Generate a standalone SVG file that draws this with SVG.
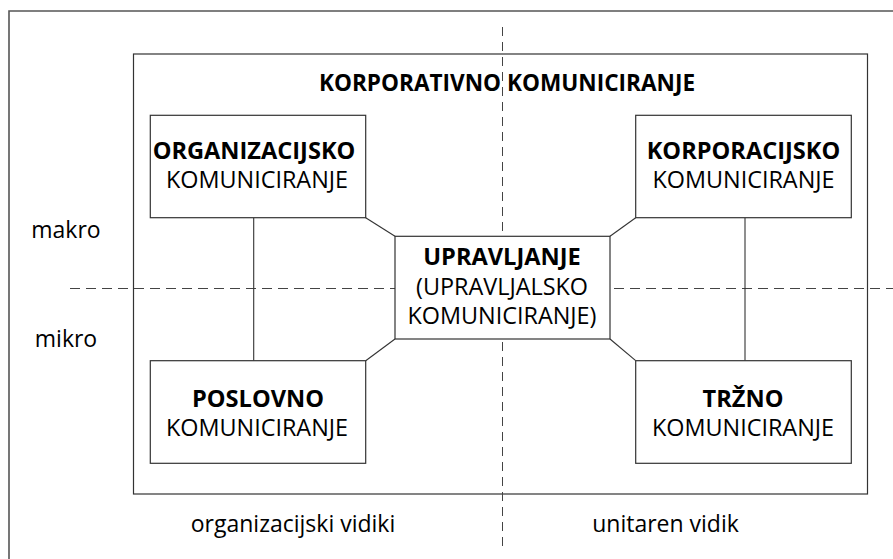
<svg xmlns="http://www.w3.org/2000/svg" width="893" height="559" viewBox="0 0 893 559">
<style>
.frame{fill:none;stroke:#555;stroke-width:1.6}
.box{fill:#fff;stroke:#333;stroke-width:1.2}
.big{fill:none;stroke:#333;stroke-width:1.2}
.ln{stroke:#333;stroke-width:1.1;fill:none}
.dash{stroke:#444;stroke-width:1;fill:none}
text{font-family:"Open Sans","Noto Sans",sans-serif;fill:#000;text-anchor:middle}
.t{font-weight:bold;font-size:22.6px}
.b{font-weight:bold;font-size:23.6px}
.r{font-size:23.4px}
.l{font-size:23px}
</style>
<rect width="893" height="559" fill="#fff"/>
<path class="frame" d="M9,559 V11 H893"/>
<rect class="big" x="133.5" y="54" width="734" height="440"/>
<g id="axes">
<line class="dash" x1="70" y1="288.5" x2="893" y2="288.5" stroke-dasharray="10,6"/>
<line class="dash" x1="502.5" y1="27" x2="502.5" y2="548" stroke-dasharray="9,6"/>
</g>
<g id="connectors">
<line class="ln" x1="253.7" y1="217.7" x2="253.7" y2="360.7"/>
<line class="ln" x1="745" y1="217.7" x2="745" y2="360.7"/>
<line class="ln" x1="365.7" y1="217.7" x2="395" y2="236.3"/>
<line class="ln" x1="635.7" y1="217.7" x2="610" y2="236.3"/>
<line class="ln" x1="365.7" y1="360.7" x2="395" y2="339"/>
<line class="ln" x1="635.7" y1="360.7" x2="610" y2="339"/>
</g>
<text class="t" x="507" y="91">KORPORATIVNO KOMUNICIRANJE</text>
<g id="organizacijsko">
<rect class="box" x="150.3" y="115.3" width="215.4" height="102.4"/>
<text class="b" x="254" y="159.3">ORGANIZACIJSKO</text>
<text class="r" x="257" y="188.3">KOMUNICIRANJE</text>
</g>
<g id="korporacijsko">
<rect class="box" x="635.7" y="115.3" width="215.6" height="102.4"/>
<text class="b" x="743.5" y="159.3">KORPORACIJSKO</text>
<text class="r" x="743.5" y="188.3">KOMUNICIRANJE</text>
</g>
<g id="upravljanje">
<rect class="box" x="395" y="236.3" width="215" height="102.7"/>
<text class="b" x="502" y="265">UPRAVLJANJE</text>
<text class="r" x="502" y="295">(UPRAVLJALSKO</text>
<text class="r" x="502" y="324.3">KOMUNICIRANJE)</text>
</g>
<g id="poslovno">
<rect class="box" x="150.3" y="360.7" width="215.4" height="102.6"/>
<text class="b" x="258" y="406.7">POSLOVNO</text>
<text class="r" x="257" y="435.7">KOMUNICIRANJE</text>
</g>
<g id="trzno">
<rect class="box" x="635.7" y="360.7" width="215.6" height="102.6"/>
<text class="b" x="743" y="406.7">TRŽNO</text>
<text class="r" x="743" y="435.7">KOMUNICIRANJE</text>
</g>
<text class="l" x="66" y="238.3">makro</text>
<text class="l" x="66" y="347.3">mikro</text>
<text class="l" x="293" y="532.3">organizacijski vidiki</text>
<text class="l" x="665.5" y="532.3">unitaren vidik</text>
</svg>
